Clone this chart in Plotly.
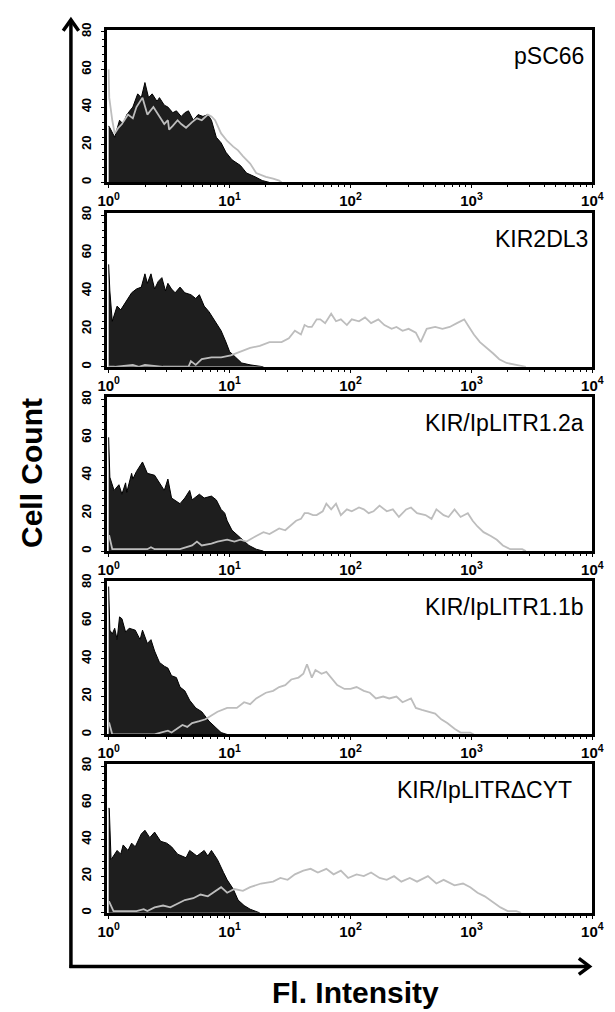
import plotly.graph_objects as go

W, H = 615, 1012

PANEL_LABELS = ["pSC66", "KIR2DL3", "KIR/IpLITR1.2a", "KIR/IpLITR1.1b", "KIR/IpLITRΔCYT"]
Y_TICKS = [0, 20, 40, 60, 80]
Y_TICK_TEXT = ["<b>0</b>", "<b>20</b>", "<b>40</b>", "<b>60</b>", "<b>80</b>"]
X_TICK_VALS = [1, 10, 100, 1000, 10000]
X_TICK_TEXT = ["<b>10<sup>0</sup></b>", "<b>10<sup>1</sup></b>", "<b>10<sup>2</sup></b>",
               "<b>10<sup>3</sup></b>", "<b>10<sup>4</sup></b>"]
X_TITLE = "<b>Fl. Intensity</b>"
Y_TITLE = "<b>Cell Count</b>"

# ---- data: log10(intensity) positions and cell counts ----
P1_BLACK_LOG = [0.0, 0.01, 0.05, 0.09, 0.12, 0.15, 0.20, 0.24, 0.27, 0.30,
                0.33, 0.36, 0.40, 0.42, 0.46, 0.49, 0.53, 0.56, 0.60, 0.63,
                0.66, 0.70, 0.74, 0.78, 0.82, 0.85, 0.89, 0.93, 0.97, 1.02,
                1.09, 1.14, 1.21, 1.27, 1.33]
P1_BLACK_CNT = [30, 29, 24, 33, 31, 36, 40, 47, 45, 53,
                45, 47, 43, 45, 41, 40, 37, 38, 35, 37,
                38, 33, 36, 35, 36, 33, 24, 21, 16, 12,
                9, 5, 3, 1, 0]
P1_GRAY_LOG = [0.0, 0.005, 0.03, 0.05, 0.08, 0.11, 0.16, 0.20, 0.23, 0.28,
               0.32, 0.37, 0.42, 0.46, 0.49, 0.50, 0.53, 0.57, 0.60, 0.64,
               0.69, 0.73, 0.77, 0.82, 0.85, 0.88, 0.93, 0.98, 1.03, 1.07,
               1.11, 1.17, 1.22, 1.26, 1.30, 1.36, 1.41, 1.43]
P1_GRAY_CNT = [60, 45, 33, 26, 29, 31, 36, 34, 40, 45,
               36, 40, 35, 31, 33, 28, 30, 33, 31, 29,
               32, 34, 33, 36, 35, 33, 26, 22, 19, 17,
               14, 10, 5, 4, 3, 2, 1, 0]

P2_BLACK_LOG = [0.0, 0.01, 0.03, 0.07, 0.10, 0.14, 0.19, 0.23, 0.27, 0.30,
                0.32, 0.35, 0.38, 0.41, 0.44, 0.47, 0.49, 0.52, 0.55, 0.59,
                0.63, 0.68, 0.72, 0.75, 0.79, 0.83, 0.88, 0.93, 0.97, 1.00,
                1.05, 1.10, 1.17, 1.28]
P2_BLACK_CNT = [54, 40, 24, 32, 30, 34, 39, 41, 42, 49,
                44, 49, 41, 45, 47, 40, 44, 41, 39, 42,
                39, 38, 36, 38, 32, 29, 24, 19, 13, 8,
                5, 2, 1, 0]
P2_GRAY_LOG = [0.0, 0.05, 0.20, 0.25, 0.30, 0.45, 0.60, 0.66, 0.68, 0.72,
               0.77, 0.85, 0.93, 1.01, 1.09, 1.17, 1.25, 1.33, 1.43, 1.49,
               1.54, 1.59, 1.62, 1.65, 1.68, 1.72, 1.75, 1.79, 1.84, 1.88,
               1.92, 1.97, 2.01, 2.07, 2.12, 2.17, 2.23, 2.28, 2.34, 2.38,
               2.43, 2.48, 2.54, 2.58, 2.63, 2.70, 2.76, 2.82, 2.88, 2.94,
               2.98, 3.02, 3.07, 3.13, 3.18, 3.23, 3.29, 3.37, 3.45]
P2_GRAY_CNT = [0, 0, 1, 0, 1, 0, 0, 0, 3, 1,
               4, 5, 5, 6, 8, 10, 11, 13, 13, 15,
               19, 17, 22, 21, 21, 25, 25, 23, 28, 24,
               25, 22, 25, 24, 26, 23, 25, 22, 20, 21,
               19, 20, 18, 13, 20, 21, 20, 21, 23, 25,
               21, 17, 13, 10, 7, 4, 2, 1, 0]

P3_BLACK_LOG = [0.0, 0.01, 0.045, 0.085, 0.11, 0.14, 0.15, 0.19, 0.20, 0.23,
                0.28, 0.32, 0.38, 0.43, 0.46, 0.49, 0.52, 0.59, 0.63, 0.67,
                0.69, 0.75, 0.79, 0.85, 0.89, 0.93, 0.96, 0.98, 1.02, 1.09,
                1.16, 1.22, 1.28]
P3_BLACK_CNT = [60, 39, 32, 35, 30, 36, 31, 41, 38, 42,
                47, 41, 40, 35, 32, 38, 28, 25, 28, 32,
                27, 30, 28, 29, 27, 22, 20, 16, 11, 7,
                3, 1, 0]
P3_GRAY_LOG = [0.0, 0.005, 0.03, 0.15, 0.32, 0.35, 0.38, 0.59, 0.64, 0.69,
               0.73, 0.77, 0.85, 0.90, 0.98, 1.04, 1.09, 1.14, 1.22, 1.28,
               1.33, 1.41, 1.46, 1.51, 1.55, 1.59, 1.62, 1.65, 1.69, 1.72,
               1.77, 1.80, 1.84, 1.88, 1.92, 1.97, 2.01, 2.07, 2.11, 2.15,
               2.19, 2.24, 2.30, 2.35, 2.40, 2.46, 2.50, 2.55, 2.62, 2.67,
               2.71, 2.77, 2.81, 2.86, 2.91, 2.97, 3.01, 3.05, 3.10, 3.16,
               3.21, 3.26, 3.32, 3.42, 3.45]
P3_GRAY_CNT = [8, 8, 1, 1, 1, 2, 1, 1, 2, 3,
               5, 3, 4, 5, 6, 5, 6, 5, 8, 10,
               9, 12, 11, 14, 16, 17, 20, 20, 19, 19,
               21, 25, 22, 25, 19, 22, 21, 23, 22, 20,
               21, 24, 21, 22, 18, 22, 23, 20, 19, 17,
               22, 19, 18, 22, 18, 20, 16, 13, 10, 8,
               6, 3, 1, 1, 0]

P4_BLACK_LOG = [0.0, 0.01, 0.03, 0.05, 0.07, 0.09, 0.11, 0.14, 0.17, 0.22,
                0.26, 0.28, 0.32, 0.35, 0.38, 0.42, 0.46, 0.49, 0.52, 0.56,
                0.59, 0.63, 0.67, 0.72, 0.77, 0.83, 0.88, 0.93, 0.98]
P4_BLACK_CNT = [78, 55, 53, 56, 50, 62, 61, 54, 56, 55,
                50, 55, 48, 50, 44, 38, 36, 35, 31, 30,
                25, 23, 18, 14, 12, 7, 4, 1, 0]
P4_GRAY_LOG = [0.0, 0.005, 0.03, 0.38, 0.43, 0.49, 0.52, 0.56, 0.61, 0.65,
               0.69, 0.75, 0.80, 0.85, 0.90, 0.98, 1.06, 1.12, 1.17, 1.22,
               1.30, 1.36, 1.41, 1.46, 1.51, 1.57, 1.61, 1.64, 1.68, 1.71,
               1.76, 1.80, 1.84, 1.89, 1.95, 2.00, 2.05, 2.11, 2.16, 2.21,
               2.27, 2.32, 2.38, 2.43, 2.50, 2.54, 2.59, 2.64, 2.70, 2.75,
               2.80, 2.86, 2.91, 2.99, 3.02]
P4_GRAY_CNT = [6, 6, 0, 0, 1, 2, 1, 3, 5, 4,
               6, 7, 8, 10, 12, 14, 14, 17, 16, 19,
               22, 23, 25, 26, 29, 30, 32, 37, 30, 34,
               32, 33, 30, 26, 24, 24, 25, 23, 22, 19,
               20, 19, 20, 17, 19, 14, 13, 12, 11, 8,
               6, 3, 1, 1, 0]

P5_BLACK_LOG = [0.0, 0.005, 0.02, 0.07, 0.10, 0.12, 0.16, 0.19, 0.22, 0.27,
                0.30, 0.34, 0.38, 0.43, 0.48, 0.52, 0.57, 0.64, 0.67, 0.73,
                0.79, 0.82, 0.85, 0.90, 0.95, 0.98, 1.03, 1.07, 1.12, 1.17,
                1.25]
P5_BLACK_CNT = [57, 57, 29, 34, 32, 37, 34, 38, 36, 43,
                45, 41, 44, 39, 38, 36, 32, 30, 34, 31,
                34, 31, 34, 29, 22, 18, 13, 7, 4, 2,
                0]
P5_GRAY_LOG = [0.0, 0.005, 0.04, 0.23, 0.29, 0.32, 0.38, 0.45, 0.51, 0.57,
               0.63, 0.70, 0.76, 0.82, 0.89, 0.93, 0.98, 1.04, 1.11, 1.17,
               1.26, 1.36, 1.42, 1.48, 1.54, 1.61, 1.67, 1.73, 1.80, 1.86,
               1.92, 1.98, 2.05, 2.11, 2.17, 2.24, 2.30, 2.36, 2.42, 2.49,
               2.55, 2.64, 2.71, 2.77, 2.86, 2.93, 2.99, 3.05, 3.11, 3.18,
               3.24, 3.30, 3.37, 3.41]
P5_GRAY_CNT = [6, 6, 1, 1, 2, 1, 3, 4, 3, 5,
               7, 8, 10, 9, 12, 14, 11, 13, 12, 14,
               16, 17, 19, 18, 21, 23, 24, 22, 24, 21,
               23, 19, 21, 20, 22, 19, 18, 20, 17, 19,
               17, 20, 16, 18, 15, 16, 14, 11, 9, 6,
               3, 1, 1, 0]

BLACK = [(P1_BLACK_LOG, P1_BLACK_CNT), (P2_BLACK_LOG, P2_BLACK_CNT), (P3_BLACK_LOG, P3_BLACK_CNT),
         (P4_BLACK_LOG, P4_BLACK_CNT), (P5_BLACK_LOG, P5_BLACK_CNT)]
GRAY = [(P1_GRAY_LOG, P1_GRAY_CNT), (P2_GRAY_LOG, P2_GRAY_CNT), (P3_GRAY_LOG, P3_GRAY_CNT),
        (P4_GRAY_LOG, P4_GRAY_CNT), (P5_GRAY_LOG, P5_GRAY_CNT)]
for a, b in BLACK + GRAY:
    assert len(a) == len(b), (len(a), len(b))

# ---- layout geometry (pixels) ----
PANEL_TOP = [23, 208, 394, 579, 764]
PANEL_BOTTOM = [177, 363, 549, 734, 914]
X_LEFT, X_RIGHT = 101, 603
LABEL_RIGHT = [596, 601, 596, 596, 584]
LABEL_OFFSET = 26

MINOR_X = [m * 10 ** k for k in range(4) for m in range(2, 10)]

def px(x):
    return x / W

def py(y):
    return 1 - y / H

XTICKFONT = dict(family="Liberation Sans", size=15, color="black")
YTICKFONT = dict(family="Liberation Sans", size=13, color="black")

fig = go.Figure()
layout = dict(width=W, height=H, margin=dict(l=0, r=0, t=0, b=0),
              paper_bgcolor="white", plot_bgcolor="white", showlegend=False)
annotations = []

for i in range(5):
    sfx = "" if i == 0 else str(i + 1)
    bl, bc = BLACK[i]
    gl, gc = GRAY[i]
    fig.add_trace(go.Scatter(x=[10 ** v for v in bl], y=bc, mode="lines", fill="tozeroy",
                             fillcolor="#1e1e1e", line=dict(color="black", width=1),
                             xaxis="x" + sfx, yaxis="y" + sfx, hoverinfo="skip"))
    fig.add_trace(go.Scatter(x=[10 ** v for v in gl], y=gc, mode="lines",
                             line=dict(color="#bdbdbd", width=1.8),
                             xaxis="x" + sfx, yaxis="y" + sfx, hoverinfo="skip"))
    layout["xaxis" + sfx] = dict(
        type="log", range=[-0.016, 4.0], domain=[px(X_LEFT), px(X_RIGHT)], anchor="y" + sfx,
        tickmode="array", tickvals=X_TICK_VALS, ticktext=X_TICK_TEXT, tickangle=0,
        showline=True, linecolor="black", linewidth=2.5, mirror=True,
        ticks="outside", ticklen=3, tickwidth=1, tickcolor="black",
        minor=dict(tickmode="array", tickvals=MINOR_X, ticks="outside", ticklen=2, tickcolor="black"),
        showgrid=False, zeroline=False, tickfont=XTICKFONT)
    layout["yaxis" + sfx] = dict(
        range=[0, 81], domain=[py(PANEL_BOTTOM[i]), py(PANEL_TOP[i])], anchor="x" + sfx,
        tickmode="array", tickvals=Y_TICKS, ticktext=Y_TICK_TEXT, tickangle=-90,
        showline=True, linecolor="black", linewidth=2.5, mirror=True,
        ticks="outside", ticklen=3, tickwidth=1, tickcolor="black",
        minor=dict(dtick=4, ticks="outside", ticklen=2, tickcolor="black"),
        showgrid=False, zeroline=False, tickfont=YTICKFONT, ticklabelstandoff=5)
    annotations.append(dict(text=PANEL_LABELS[i], xref="paper", yref="paper",
                            x=px(LABEL_RIGHT[i]), y=py(PANEL_TOP[i] + LABEL_OFFSET),
                            xanchor="right", yanchor="middle", showarrow=False,
                            font=dict(family="Liberation Sans", size=23, color="black")))

annotations.append(dict(text=Y_TITLE, xref="paper", yref="paper", x=px(24), y=py(470),
                        xanchor="center", yanchor="middle", textangle=-90, showarrow=False,
                        font=dict(family="Liberation Sans", size=30, color="black")))
annotations.append(dict(text=X_TITLE, xref="paper", yref="paper", x=px(358), y=py(994),
                        xanchor="center", yanchor="middle", showarrow=False,
                        font=dict(family="Liberation Sans", size=30, color="black")))
layout["annotations"] = annotations

# big axis arrows
AX_X, AX_Y = 64, 968
shapes = [
    dict(type="line", xref="paper", yref="paper", x0=px(AX_X), y0=py(AX_Y + 1.5), x1=px(AX_X), y1=py(13),
         line=dict(color="black", width=3.5)),
    dict(type="line", xref="paper", yref="paper", x0=px(AX_X - 1.5), y0=py(AX_Y), x1=px(599), y1=py(AX_Y),
         line=dict(color="black", width=3.5)),
    dict(type="path", xref="paper", yref="paper",
         path=f"M {px(AX_X-8)},{py(24)} L {px(AX_X)},{py(13)} L {px(AX_X+8)},{py(24)}",
         line=dict(color="black", width=3.5)),
    dict(type="path", xref="paper", yref="paper",
         path=f"M {px(589)},{py(AX_Y-8)} L {px(600)},{py(AX_Y)} L {px(589)},{py(AX_Y+8)}",
         line=dict(color="black", width=3.5)),
]
layout["shapes"] = shapes

fig.update_layout(**layout)
fig.write_html("out.html")
